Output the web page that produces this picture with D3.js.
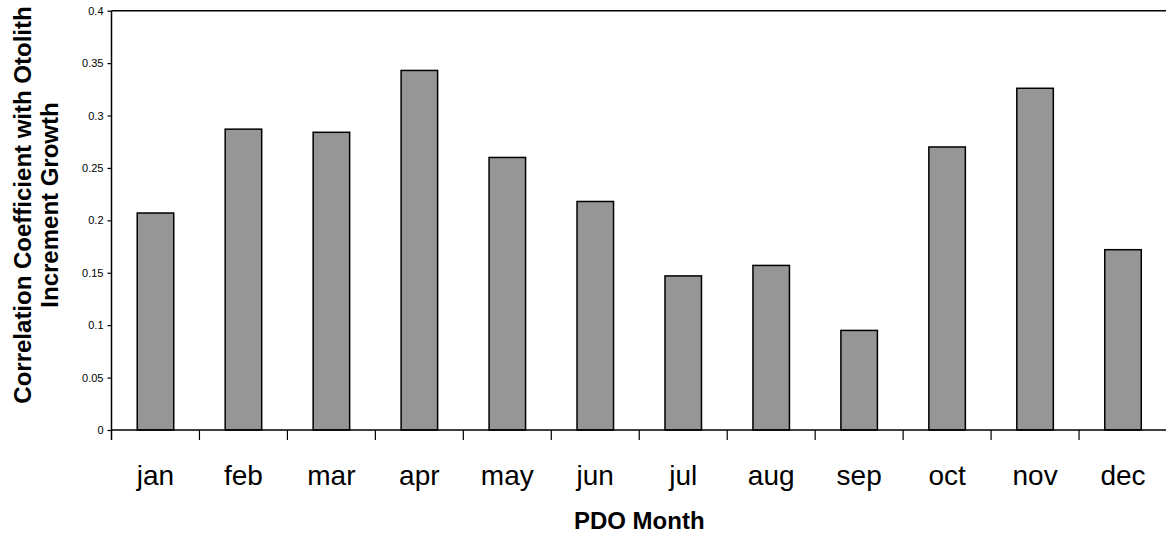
<!DOCTYPE html>
<html>
<head>
<meta charset="utf-8">
<script src="https://cdn.jsdelivr.net/npm/d3@7"></script>
<style>
  html, body { margin: 0; padding: 0; background: #fff; }
  svg { display: block; font-family: Arial, "Liberation Sans", sans-serif; }
</style>
</head>
<body>
<svg id="chart" width="1166" height="535"></svg>
<script>
const months = ["jan","feb","mar","apr","may","jun","jul","aug","sep","oct","nov","dec"];
const values = [0.207, 0.287, 0.284, 0.343, 0.260, 0.218, 0.147, 0.157, 0.095, 0.270, 0.326, 0.172];
const yTicks = [0, 0.05, 0.1, 0.15, 0.2, 0.25, 0.3, 0.35, 0.4];
const yTickLabels = ["0", "0.05", "0.1", "0.15", "0.2", "0.25", "0.3", "0.35", "0.4"];
const xTitle = "PDO Month";
const yTitleLines = ["Correlation Coefficient with Otolith", "Increment Growth"];

(function () {
const svg = d3.select("#chart");
const pLeft = 111.5, pRight = 1167, pTop = 10.7, pBottom = 430;

const x = d3.scaleBand().domain(months).range([pLeft, pRight])
  .paddingInner(0.585).paddingOuter(0.2925);
const xEdge = d3.scaleBand().domain(months).range([pLeft, pRight]).padding(0);
const y = d3.scaleLinear().domain([0, 0.4]).range([pBottom, pTop]);

// top border line
svg.append("line")
  .attr("x1", pLeft).attr("x2", 1166)
  .attr("y1", y(0.4)).attr("y2", y(0.4))
  .attr("stroke", "#000").attr("stroke-width", 1.5);

// bars
svg.append("g").selectAll("rect").data(values).join("rect")
  .attr("x", (d, i) => x(months[i]))
  .attr("width", x.bandwidth())
  .attr("y", d => y(d))
  .attr("height", d => y(0) - y(d))
  .attr("fill", "#969696")
  .attr("stroke", "#000")
  .attr("stroke-width", 1.5);

// y axis
const yAxis = d3.axisLeft(y).tickValues(yTicks)
  .tickFormat((d, i) => yTickLabels[i]).tickSize(4).tickPadding(4);
const gy = svg.append("g").attr("transform", `translate(${pLeft},0)`).call(yAxis);
gy.select(".domain").remove();
gy.selectAll(".tick line").attr("stroke", "#000").attr("stroke-width", 1.2);
gy.selectAll("text").attr("font-size", 11).attr("fill", "#000")
  .attr("font-family", "Arial, 'Liberation Sans', sans-serif");
svg.append("line")
  .attr("x1", pLeft).attr("x2", pLeft)
  .attr("y1", y(0.4)).attr("y2", pBottom + 10)
  .attr("stroke", "#000").attr("stroke-width", 1.5);

// x axis line
svg.append("line")
  .attr("x1", pLeft).attr("x2", 1166)
  .attr("y1", pBottom).attr("y2", pBottom)
  .attr("stroke", "#000").attr("stroke-width", 1.5);

// x ticks at category boundaries
const edges = months.slice(1).map(m => xEdge(m));
svg.append("g").selectAll("line").data(edges).join("line")
  .attr("x1", d => d).attr("x2", d => d)
  .attr("y1", pBottom).attr("y2", pBottom + 10)
  .attr("stroke", "#000").attr("stroke-width", 1.2);

// x labels
svg.append("g").selectAll("text").data(months).join("text")
  .attr("x", d => xEdge(d) + xEdge.bandwidth() / 2)
  .attr("y", 485)
  .attr("text-anchor", "middle")
  .attr("font-size", 28)
  .attr("fill", "#000")
  .text(d => d);

// x title
svg.append("text")
  .attr("x", (pLeft + pRight) / 2)
  .attr("y", 529)
  .attr("text-anchor", "middle")
  .attr("font-size", 24)
  .attr("font-weight", "bold")
  .attr("fill", "#000")
  .text(xTitle);

// y title
const yt = svg.append("text")
  .attr("transform", "translate(31,205) rotate(-90)")
  .attr("text-anchor", "middle")
  .attr("font-size", 24)
  .attr("font-weight", "bold")
  .attr("fill", "#000");
yTitleLines.forEach((t, i) => {
  yt.append("tspan").attr("x", 0).attr("y", i * 27).text(t);
});
})();
</script>
</body>
</html>
